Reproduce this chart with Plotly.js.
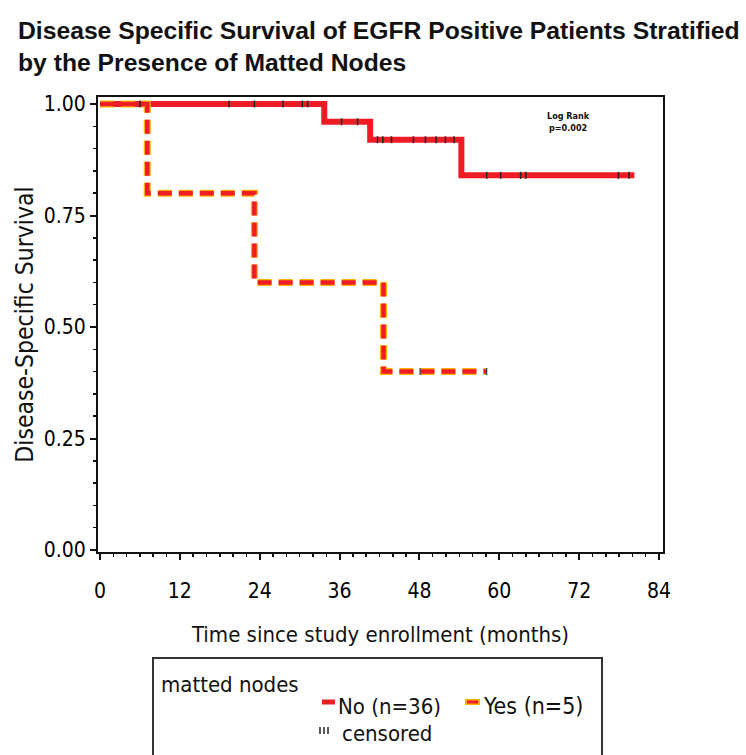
<!DOCTYPE html>
<html>
<head>
<meta charset="utf-8">
<script src="https://cdn.plot.ly/plotly-3.0.1.min.js"></script>
<style>html,body{margin:0;padding:0;background:#fff;}</style>
</head>
<body>
<div id="chart" style="width:746px;height:755px;"></div>
<script>
// ---- data ----
const noTimes   = [0, 33.7, 40.6, 54.3, 80.3];
const noSurv    = [1.0, 0.96, 0.92, 0.84, 0.84];
const noCensT   = [6.0, 19.4, 23.2, 27.5, 30.4, 31.2, 36.3, 38.7, 41.7, 42.5, 43.8, 47.1, 48.9, 50.5, 51.9, 53.2, 58.1, 60.2, 63.2, 64.0, 77.9, 79.5];
const noCensS   = [1.0, 1.0, 1.0, 1.0, 1.0, 1.0, 0.96, 0.96, 0.92, 0.92, 0.92, 0.92, 0.92, 0.92, 0.92, 0.92, 0.84, 0.84, 0.84, 0.84, 0.84, 0.84];
const yesTimes  = [0, 7.1, 23.2, 42.6, 58.1];
const yesSurv   = [1.0, 0.8, 0.6, 0.4, 0.4];
const yesCensT  = [48.1, 58.1];
const yesCensS  = [0.4, 0.4];
const xTicks    = [0, 12, 24, 36, 48, 60, 72, 84];
const yTicks    = [0, 0.25, 0.5, 0.75, 1.0];
const yTickText = ['0.00', '0.25', '0.50', '0.75', '1.00'];
const seriesNames = ['No (n=36)', 'Yes (n=5)', 'censored'];

// ---- layout geometry ----
const W = 746, H = 755;
const M = {l: 98, r: 83, t: 97, b: 203};
const pw = W - M.l - M.r, ph = H - M.t - M.b;
const px = x => (x - M.l) / pw;          // pixel -> paper x
const py = y => (H - M.b - y) / ph;      // pixel -> paper y

const RED = '#ee1c24', ORANGE = '#ffb000';
const FONT = 'DejaVu Sans Condensed, Liberation Sans Narrow, sans-serif';

const traces = [
  {x: noTimes, y: noSurv, mode: 'lines', line: {shape: 'hv', color: RED, width: 6}, showlegend: false, hoverinfo: 'skip'},
  {x: noCensT, y: noCensS, mode: 'markers', marker: {symbol: 'line-ns', size: 5, line: {color: '#222', width: 1.5}}, showlegend: false},
  {x: yesTimes, y: yesSurv, mode: 'lines', line: {shape: 'hv', color: ORANGE, width: 7, dash: '14px,7px'}, showlegend: false},
  {x: yesTimes, y: yesSurv, mode: 'lines', line: {shape: 'hv', color: RED, width: 4.5, dash: '14px,7px'}, showlegend: false},
  {x: yesCensT, y: yesCensS, mode: 'markers', marker: {symbol: 'line-ns', size: 5, line: {color: '#334', width: 1.2}}, showlegend: false}
];

const shapes = [
  // legend box
  {type: 'rect', xref: 'paper', yref: 'paper', x0: px(153), x1: px(602), y0: py(658), y1: py(770),
   line: {color: '#333', width: 2}, fillcolor: 'rgba(0,0,0,0)'},
  // legend swatches
  {type: 'line', xref: 'paper', yref: 'paper', x0: px(322), x1: px(335), y0: py(702), y1: py(702), line: {color: RED, width: 5}},
  {type: 'line', xref: 'paper', yref: 'paper', x0: px(465), x1: px(480), y0: py(702), y1: py(702), line: {color: ORANGE, width: 6}},
  {type: 'line', xref: 'paper', yref: 'paper', x0: px(467), x1: px(478), y0: py(702), y1: py(702), line: {color: RED, width: 3}},
];
// censored symbol "III"
[320, 324, 328].forEach(xx => shapes.push({type: 'line', xref: 'paper', yref: 'paper', x0: px(xx), x1: px(xx), y0: py(727), y1: py(734), line: {color: '#222', width: 1.5}}));

const annFont = {family: FONT, size: 22, color: '#111'};
const annotations = [
  {xref: 'paper', yref: 'paper', x: px(159), y: py(684), xanchor: 'left', yanchor: 'middle', text: 'matted nodes', showarrow: false, font: annFont},
  {xref: 'paper', yref: 'paper', x: px(336), y: py(706), xanchor: 'left', yanchor: 'middle', text: seriesNames[0], showarrow: false, font: annFont},
  {xref: 'paper', yref: 'paper', x: px(481), y: py(706), xanchor: 'left', yanchor: 'middle', text: seriesNames[1], showarrow: false, font: {family: FONT, size: 23, color: '#111'}},
  {xref: 'paper', yref: 'paper', x: px(340), y: py(733), xanchor: 'left', yanchor: 'middle', text: seriesNames[2], showarrow: false, font: annFont},
  {xref: 'paper', yref: 'paper', x: px(568), y: py(122), xanchor: 'center', yanchor: 'middle', text: '<b>Log Rank<br>p=0.002</b>', showarrow: false, font: {family: FONT, size: 9, color: '#111'}}
];

const layout = {
  width: W, height: H,
  margin: M,
  paper_bgcolor: '#fff', plot_bgcolor: '#fff',
  title: {text: '<b>Disease Specific Survival of EGFR Positive Patients Stratified<br>by the Presence of Matted Nodes</b>',
          x: 18 / W, xanchor: 'left', xref: 'container', y: 1 - 39 / H, yanchor: 'top',
          font: {family: 'Liberation Sans Narrow, sans-serif', size: 24.7, color: '#111'}},
  showlegend: false,
  xaxis: {range: [-0.3, 84.6], tickvals: xTicks, ticktext: xTicks.map(String), ticks: 'outside', ticklen: 6, tickwidth: 2, tickcolor: '#111',
          minor: {dtick: 2, tick0: 0, ticks: 'outside', ticklen: 3, tickwidth: 1.5, tickcolor: '#111'},
          showline: true, linecolor: '#111', linewidth: 2, mirror: true, showgrid: false, zeroline: false,
          ticklabelstandoff: 13,
          tickfont: {family: FONT, size: 21, color: '#000'},
          title: {text: 'Time since study enrollment (months)', font: {family: FONT, size: 22, color: '#111'}, standoff: 24}},
  yaxis: {range: [-0.0045, 1.0157], tickvals: yTicks, ticktext: yTickText, ticks: 'outside', ticklen: 6, tickwidth: 2, tickcolor: '#111',
          minor: {dtick: 0.05, tick0: 0, ticks: 'outside', ticklen: 3, tickwidth: 1.5, tickcolor: '#111'},
          showline: true, linecolor: '#111', linewidth: 2, mirror: true, showgrid: false, zeroline: false,
          tickfont: {family: FONT, size: 21, color: '#000'},
          title: {text: 'Disease-Specific Survival', font: {family: FONT, size: 24.5, color: '#111'}, standoff: 3}},
  shapes: shapes,
  annotations: annotations
};

Plotly.newPlot('chart', traces, layout, {displayModeBar: false, staticPlot: true});
</script>
</body>
</html>
